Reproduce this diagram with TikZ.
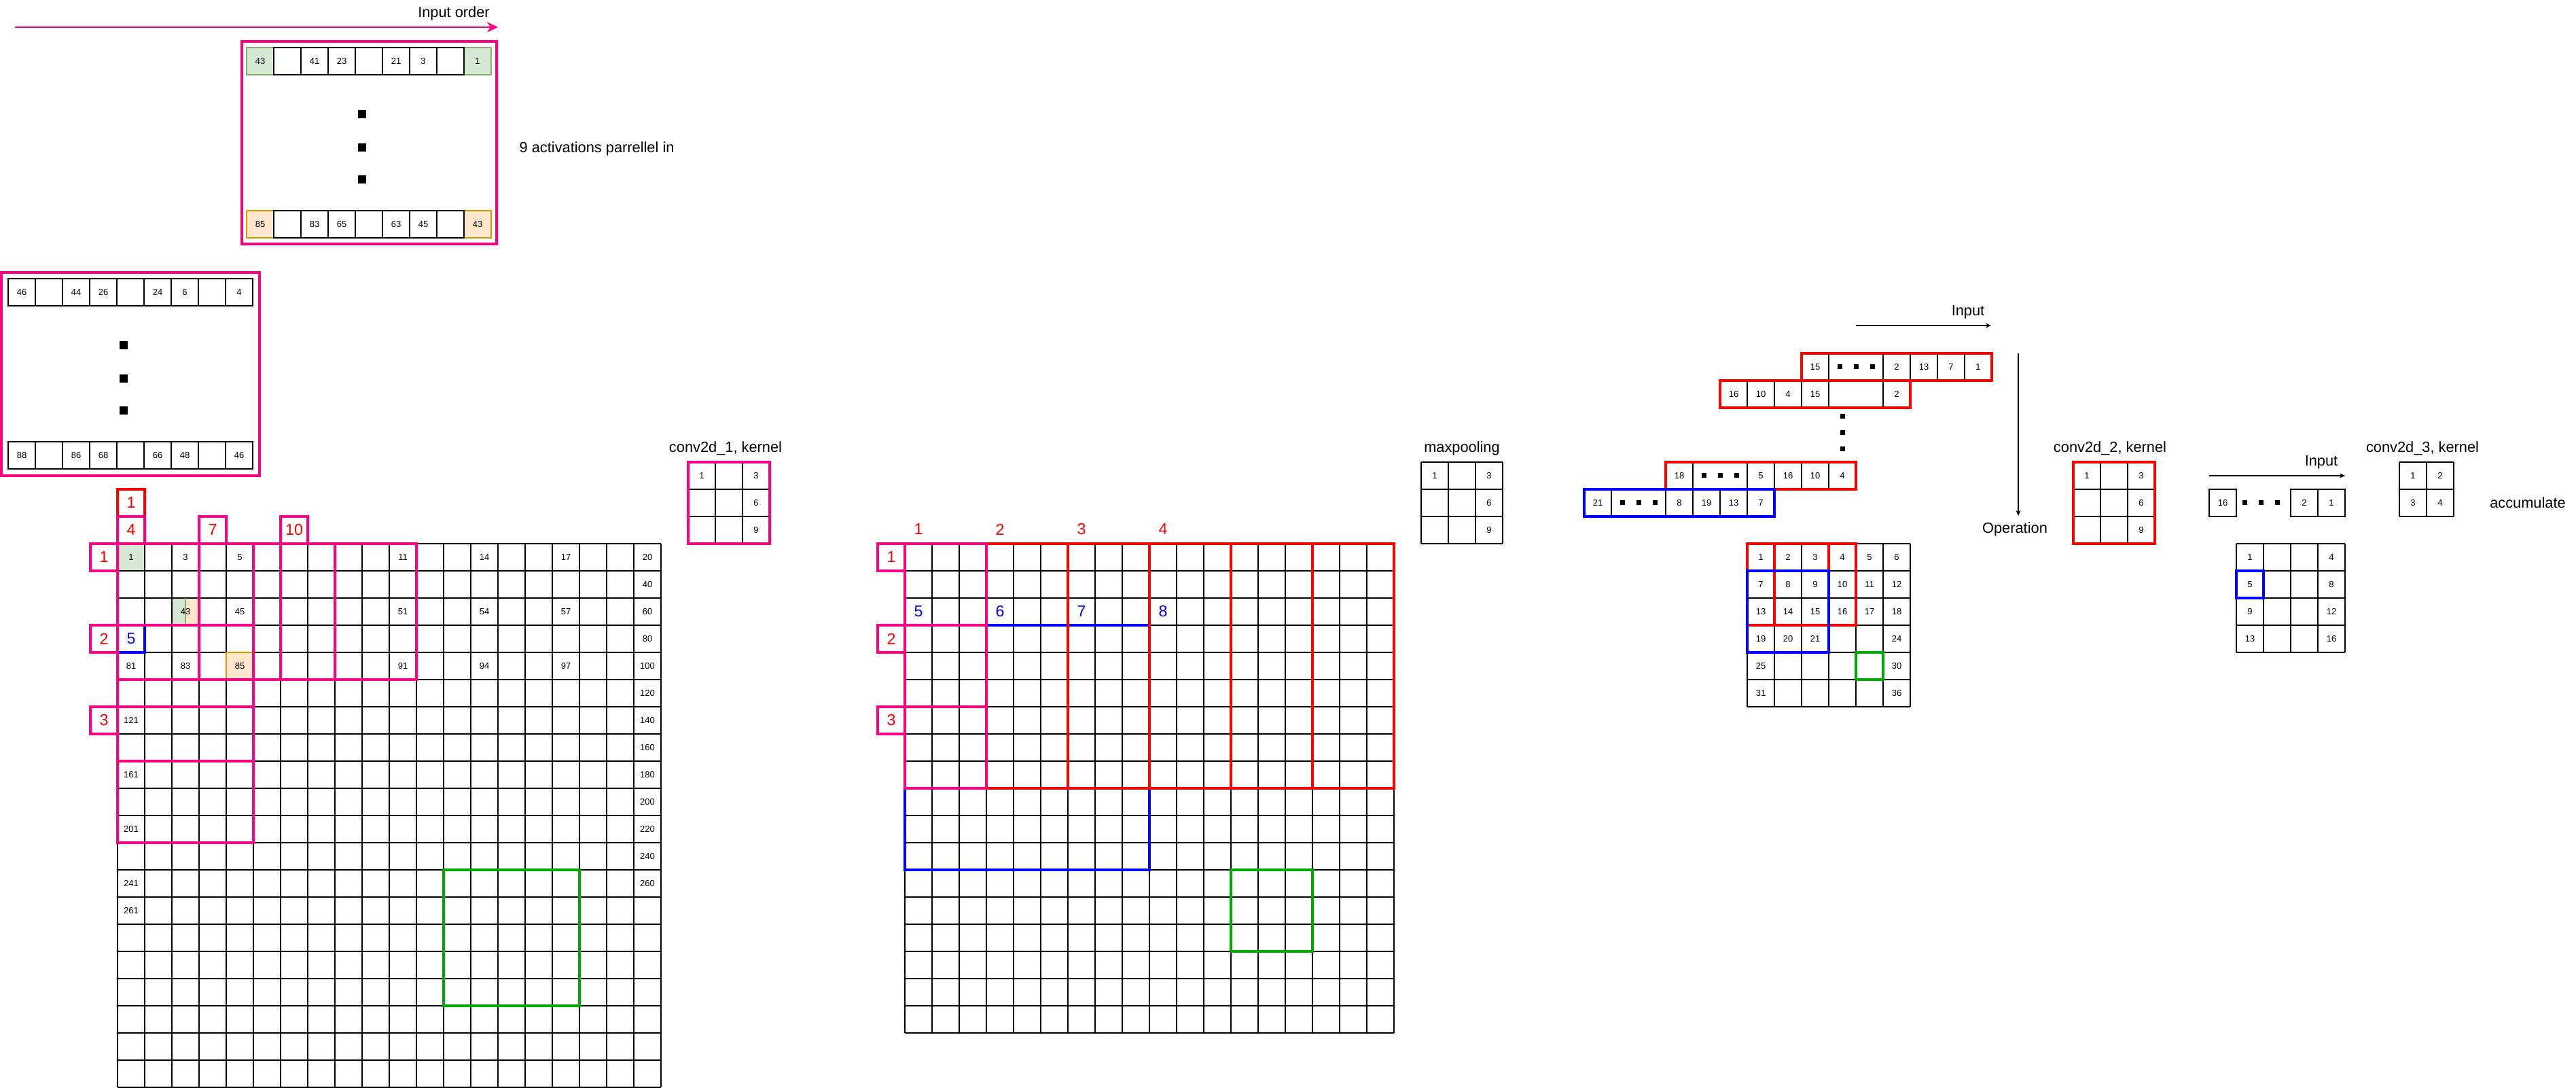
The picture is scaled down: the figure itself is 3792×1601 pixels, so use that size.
\documentclass[tikz,border=0pt]{standalone}
\usepackage{fontspec}
\setmainfont{Liberation Sans}
\usetikzlibrary{arrows.meta}
\definecolor{pinkc}{HTML}{FF0080}
\definecolor{redc}{HTML}{FF0000}
\definecolor{bluec}{HTML}{0000FF}
\definecolor{greenc}{HTML}{00A800}
\definecolor{gfill}{HTML}{D5E8D4}
\definecolor{gstroke}{HTML}{82B366}
\definecolor{ofill}{HTML}{FFE6CC}
\definecolor{ostroke}{HTML}{D79B00}
\tikzset{
  gl/.style={line width=0.35pt, black},
  pinkbox/.style={draw=pinkc, line width=0.95pt},
  redbox/.style={draw=redc, line width=0.95pt},
  bluebox/.style={draw=bluec, line width=0.95pt},
  greenbox/.style={draw=greenc, line width=0.95pt},
  cn/.style={font=\fontsize{3.7}{4}\selectfont, inner sep=0pt, text=black},
  lbl/.style={font=\fontsize{6.2}{7}\selectfont, inner sep=0pt, text=black},
  rnum/.style={font=\fontsize{6.6}{7}\selectfont, inner sep=0pt, text=redc},
  bnum/.style={font=\fontsize{6.6}{7}\selectfont, inner sep=0pt, text=bluec},
  pinklab/.style={draw=pinkc, line width=0.95pt, minimum size=0.4cm, inner sep=0pt, outer sep=0pt, font=\fontsize{6.6}{7}\selectfont, text=redc},
  redlab/.style={draw=redc, line width=0.95pt, minimum size=0.4cm, inner sep=0pt, outer sep=0pt, font=\fontsize{6.6}{7}\selectfont, text=redc},
  cell/.style={draw=black, line width=0.35pt, minimum width=0.4cm, minimum height=0.4cm, inner sep=0pt, outer sep=0pt, font=\fontsize{3.7}{4}\selectfont, anchor=north west},
  gcell/.style={cell, draw=gstroke, fill=gfill},
  ocell/.style={cell, draw=ostroke, fill=ofill},
  dotsq/.style={rectangle, fill=black, minimum size=0.12cm, inner sep=0pt, outer sep=0pt},
  smdot/.style={rectangle, fill=black, minimum size=0.07cm, inner sep=0pt, outer sep=0pt},
  arr/.style={draw=black, line width=0.3pt, -{Stealth[length=0.08cm,width=0.07cm]}},
}
\newcommand{\drawgrid}[4]{%
  \foreach \gi in {0,...,#3} \draw[gl] ({#1+40*\gi},#2) -- ({#1+40*\gi},{#2+40*#4});
  \foreach \gj in {0,...,#4} \draw[gl] (#1,{#2+40*\gj}) -- ({#1+40*#3},{#2+40*\gj});
}
\begin{document}
\begin{tikzpicture}[x=0.01cm,y=-0.01cm]
\useasboundingbox[fill=white] (0,0) rectangle (3792,1601);

% ---------- Input order arrow ----------
\coordinate (ioS) at (22,40);
\coordinate (ioE) at (733,40);
\draw[pinkc, line width=0.8pt, -{Stealth[length=0.16cm,width=0.15cm,inset=0.05cm]}] (ioS) -- (ioE);
\node[lbl] (inputorder) at (668,20) {Input order};

% ---------- box 1 ----------
\node[gcell] (Ta9) at (683,70) {1};
\node[gcell] (Ta1) at (363,70) {43};
\foreach \v [count=\i from 2] in {{},41,23,{},21,3,{}} \node[cell] (Ta\i) at ({323+40*\i},70) {\v};
\node[ocell] (Tb9) at (683,310) {43};
\node[ocell] (Tb1) at (363,310) {85};
\foreach \v [count=\i from 2] in {{},83,65,{},63,45,{}} \node[cell] (Tb\i) at ({323+40*\i},310) {\v};
\draw[pinkbox] (356,61) rectangle (731,359);
\node[dotsq] (td1) at (533,168) {};
\node[dotsq] (td2) at (533,217) {};
\node[dotsq] (td3) at (533,264) {};
\node[lbl, anchor=west] (act) at (764,219) {9 activations parrellel in};

% ---------- box 2 ----------
\foreach \v [count=\i] in {46,{},44,26,{},24,6,{},4} \node[cell] (Sa\i) at ({-28+40*\i},410) {\v};
\foreach \v [count=\i] in {88,{},86,68,{},66,48,{},46} \node[cell] (Sb\i) at ({-28+40*\i},650) {\v};
\draw[pinkbox] (2,401) rectangle (382,700);
\node[dotsq] (sd1) at (182,508) {};
\node[dotsq] (sd2) at (182,557) {};
\node[dotsq] (sd3) at (182,604) {};

% ---------- left grid 20x20 ----------
\fill[gfill] (173,800) rectangle (213,840);
\fill[ofill] (333,960) rectangle (373,1000);
\fill[gfill] (253,880) rectangle (273,920);
\fill[ofill] (273,880) rectangle (293,920);
\drawgrid{173}{800}{20}{20}
\draw[ostroke, line width=0.4pt] (333,1000) -- (333,960) -- (373,960);
\draw[gstroke, line width=0.3pt] (273,880) -- (273,920);
\foreach \r/\c/\v in {1/1/1,1/3/3,1/5/5,1/11/11,1/14/14,1/17/17,1/20/20,
  2/20/40,3/3/43,3/5/45,3/11/51,3/14/54,3/17/57,3/20/60,4/20/80,
  5/1/81,5/3/83,5/5/85,5/11/91,5/14/94,5/17/97,5/20/100,
  6/20/120,7/1/121,7/20/140,8/20/160,9/1/161,9/20/180,10/20/200,
  11/1/201,11/20/220,12/20/240,13/1/241,13/20/260,14/1/261}
  \node[cn] (L\r-\c) at ({153+40*\c},{780+40*\r}) {\v};
\draw[bluebox] (173,920) rectangle (213,960);
\node[bnum] (Lb5) at (193,940) {5};
\draw[greenbox] (653,1280) rectangle (853,1480);
\draw[pinkbox] (173,800) rectangle (373,1000);
\draw[pinkbox] (293,800) rectangle (493,1000);
\draw[pinkbox] (413,800) rectangle (613,1000);
\draw[pinkbox] (173,920) rectangle (373,1120);
\draw[pinkbox] (173,1040) rectangle (373,1240);
\node[redlab] (Lc1) at (193,740) {1};
\node[pinklab] (Lc4) at (193,780) {4};
\node[pinklab] (Lc7) at (313,780) {7};
\node[pinklab] (Lc10) at (433,780) {10};
\node[pinklab] (Lr1) at (153,820) {1};
\node[pinklab] (Lr2) at (153,940) {2};
\node[pinklab] (Lr3) at (153,1060) {3};

% ---------- kernel 1 ----------
\node[lbl] (k1lab) at (1068,660) {conv2d\_1, kernel};
\drawgrid{1013}{680}{3}{3}
\draw[pinkbox] (1013,680) rectangle (1133,800);
\node[cn] (k1a) at (1033,700) {1};
\node[cn] (k1b) at (1113,700) {3};
\node[cn] (k1c) at (1113,740) {6};
\node[cn] (k1d) at (1113,780) {9};

% ---------- middle grid 18x18 ----------
\drawgrid{1332}{800}{18}{18}
\draw[bluebox] (1332,920) rectangle (1692,1280);
\draw[greenbox] (1812,1280) rectangle (1932,1400);
\foreach \k in {0,...,4} \draw[redbox] ({1452+120*\k},800) rectangle ({1572+120*\k},1160);
\foreach \k in {0,1,2} \draw[pinkbox] (1332,{800+120*\k}) rectangle (1452,{920+120*\k});
\foreach \v [count=\i] in {1,2,3,4} \node[rnum] (Mc\i) at ({1232+120*\i},779) {\v};
\foreach \v [count=\i] in {5,6,7,8} \node[bnum] (Mb\i) at ({1232+120*\i},900) {\v};
\node[pinklab] (Mr1) at (1312,820) {1};
\node[pinklab] (Mr2) at (1312,940) {2};
\node[pinklab] (Mr3) at (1312,1060) {3};

% ---------- maxpooling ----------
\node[lbl] (mplab) at (2152,660) {maxpooling};
\drawgrid{2092}{680}{3}{3}
\node[cn] (mpa) at (2112,700) {1};
\node[cn] (mpb) at (2192,700) {3};
\node[cn] (mpc) at (2192,740) {6};
\node[cn] (mpd) at (2192,780) {9};

% ---------- input rows ----------
\node[lbl] (inlab) at (2897,459) {Input};
\coordinate (inS) at (2732,479);
\coordinate (inE) at (2931,479);
\draw[arr] (inS) -- (inE);
\coordinate (opS) at (2971,520);
\coordinate (opE) at (2971,759);
\draw[arr] (opS) -- (opE);
\node[lbl] (oplab) at (2966,779) {Operation};

% row A
\node[cell] (A1) at (2652,520) {15};
\node[cell, minimum width=0.8cm] (A2) at (2692,520) {};
\node[cell] (A3) at (2772,520) {2};
\node[cell] (A4) at (2812,520) {13};
\node[cell] (A5) at (2852,520) {7};
\node[cell] (A6) at (2892,520) {1};
\foreach \k in {1,2,3} \node[smdot] (Ad\k) at ({2684+24*\k},540) {};
% row B
\node[cell] (B1) at (2532,560) {16};
\node[cell] (B2) at (2572,560) {10};
\node[cell] (B3) at (2612,560) {4};
\node[cell] (B4) at (2652,560) {15};
\node[cell, minimum width=0.8cm] (B5) at (2692,560) {};
\node[cell] (B6) at (2772,560) {2};
\draw[redbox] (A1.north west) rectangle (A6.south east);
\draw[redbox] (B1.north west) rectangle (B6.south east);
\foreach \k in {1,2,3} \node[smdot] (Vd\k) at (2712,{589+24*\k}) {};
% row C
\node[cell] (C1) at (2452,680) {18};
\node[cell, minimum width=0.8cm] (C2) at (2492,680) {};
\node[cell] (C3) at (2572,680) {5};
\node[cell] (C4) at (2612,680) {16};
\node[cell] (C5) at (2652,680) {10};
\node[cell] (C6) at (2692,680) {4};
\foreach \k in {1,2,3} \node[smdot] (Cd\k) at ({2484+24*\k},700) {};
% row D
\node[cell] (D1) at (2332,720) {21};
\node[cell, minimum width=0.8cm] (D2) at (2372,720) {};
\node[cell] (D3) at (2452,720) {8};
\node[cell] (D4) at (2492,720) {19};
\node[cell] (D5) at (2532,720) {13};
\node[cell] (D6) at (2572,720) {7};
\foreach \k in {1,2,3} \node[smdot] (Dd\k) at ({2364+24*\k},740) {};
\draw[redbox] (C1.north west) rectangle (C6.south east);
\draw[bluebox] (D1.north west) rectangle (D6.south east);

% ---------- 6x6 grid ----------
\drawgrid{2572}{800}{6}{6}
\foreach \r/\c/\v in {1/1/1,1/2/2,1/3/3,1/4/4,1/5/5,1/6/6,
  2/1/7,2/2/8,2/3/9,2/4/10,2/5/11,2/6/12,
  3/1/13,3/2/14,3/3/15,3/4/16,3/5/17,3/6/18,
  4/1/19,4/2/20,4/3/21,4/6/24,5/1/25,5/6/30,6/1/31,6/6/36}
  \node[cn] (G\r-\c) at ({2552+40*\c},{780+40*\r}) {\v};
\draw[redbox] (2572,800) rectangle (2692,920);
\draw[redbox] (2612,800) rectangle (2732,920);
\draw[bluebox] (2572,840) rectangle (2692,960);
\draw[greenbox] (2732,960) rectangle (2772,1000);

% ---------- kernel 2 ----------
\node[lbl] (k2lab) at (3106,660) {conv2d\_2, kernel};
\drawgrid{3052}{680}{3}{3}
\draw[redbox] (3052,680) rectangle (3172,800);
\node[cn] (k2a) at (3072,700) {1};
\node[cn] (k2b) at (3152,700) {3};
\node[cn] (k2c) at (3152,740) {6};
\node[cn] (k2d) at (3152,780) {9};

% ---------- input 2 ----------
\node[lbl] (in2lab) at (3417,680) {Input};
\coordinate (in2S) at (3252,700);
\coordinate (in2E) at (3452,700);
\draw[arr] (in2S) -- (in2E);
\node[cell] (E1) at (3252,720) {16};
\foreach \k in {1,2,3} \node[smdot] (Ed\k) at ({3280+24*\k},740) {};
\node[cell] (E2) at (3372,720) {2};
\node[cell] (E3) at (3412,720) {1};

% ---------- 4x4 grid ----------
\drawgrid{3292}{800}{4}{4}
\foreach \r/\c/\v in {1/1/1,1/4/4,2/1/5,2/4/8,3/1/9,3/4/12,4/1/13,4/4/16}
  \node[cn] (H\r-\c) at ({3272+40*\c},{780+40*\r}) {\v};
\draw[bluebox] (3292,840) rectangle (3332,880);

% ---------- kernel 3 ----------
\node[lbl] (k3lab) at (3566,660) {conv2d\_3, kernel};
\drawgrid{3532}{680}{2}{2}
\node[cn] (k3a) at (3552,700) {1};
\node[cn] (k3b) at (3592,700) {2};
\node[cn] (k3c) at (3552,740) {3};
\node[cn] (k3d) at (3592,740) {4};
\node[lbl] (acc) at (3721,740) {accumulate};
\end{tikzpicture}
\end{document}
